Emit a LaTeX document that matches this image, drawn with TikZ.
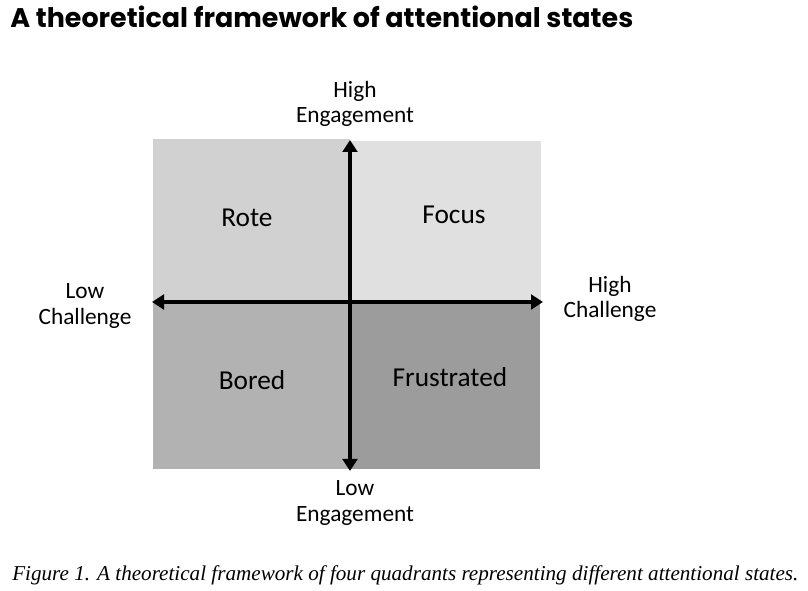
\documentclass[tikz,border=0pt]{standalone}
\usepackage{fontspec}
\setmainfont{Carlito}
\newfontfamily\titlefont{Poppins}
\newfontfamily\capfont{Liberation Serif}
\usetikzlibrary{arrows.meta,positioning}
\tikzset{
  quad/.style={draw=none},
  qlbl/.style={font=\fontsize{20.5}{24}\selectfont},
  albl/.style={align=center, font=\fontsize{17.5}{18.8}\selectfont},
  axis/.style={{Triangle[length=9pt,width=11pt]}-{Triangle[length=9pt,width=11pt]}, line width=3pt}
}
\begin{document}
\begin{tikzpicture}[x=0.75pt, y=-0.75pt]
  \useasboundingbox (0,0) rectangle (808,591);
  % quadrants
  \fill[black!18] (153,139) rectangle (350,302);
  \fill[black!12] (350,141) rectangle (541,302);
  \fill[black!30] (153,302) rectangle (350,469);
  \fill[black!39] (350,302) rectangle (540,469);
  % axis ends
  \coordinate (west) at (152,302);
  \coordinate (east) at (543,302);
  \coordinate (north) at (350,140);
  \coordinate (south) at (350,471);
  \draw[axis] (west) -- (east);
  \draw[axis] (south) -- (north);
  % labels
  \node[qlbl] (rote) at (247,218) {Rote};
  \node[qlbl] (focus) at (454,215) {Focus};
  \node[qlbl] (bored) at (252,380) {Bored};
  \node[qlbl] (frus) at (450,377) {Frustrated};
  \node[albl] (heng) at (355,104) {High\\Engagement};
  \node[albl] (leng) at (355,503) {Low\\Engagement};
  \node[albl] (lch) at (85,306) {Low\\Challenge};
  \node[albl] (hch) at (610,298.5) {High\\Challenge};
  % title and caption
  \node[anchor=base west, inner sep=0pt, font=\titlefont\bfseries\fontsize{20.2}{23}\selectfont] (title) at (10,28)
    {A theoretical framework of attentional states};
  \node[anchor=base west, inner sep=0pt, font=\capfont\itshape\fontsize{15.85}{18}\selectfont] (caption) at (12,581)
    {Figure 1. A theoretical framework of four quadrants representing different attentional states.};
\end{tikzpicture}
\end{document}
